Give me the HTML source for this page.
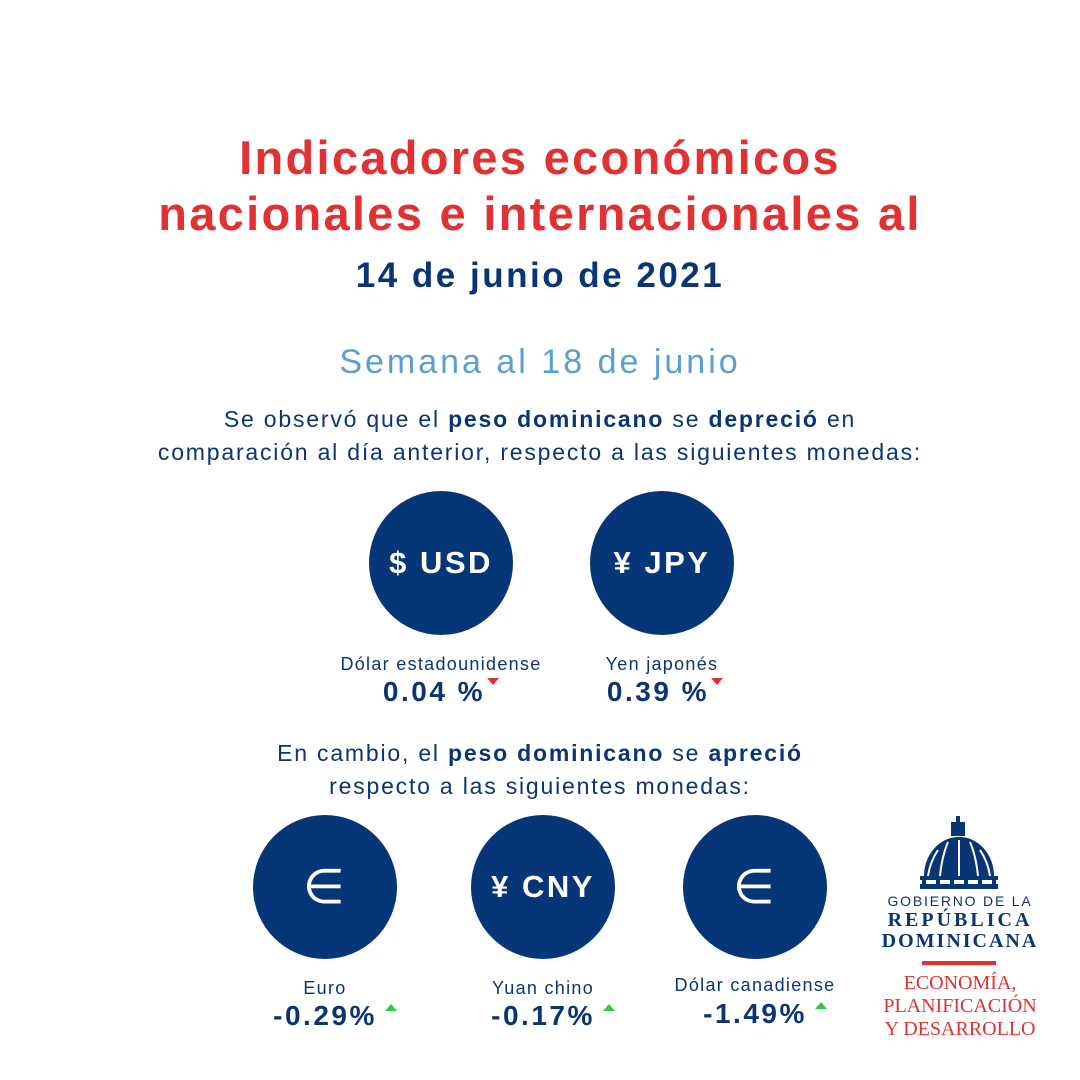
<!DOCTYPE html>
<html><head><meta charset="utf-8"><style>
body{margin:0;width:1080px;height:1080px;background:#fff;position:relative;overflow:hidden;font-family:"Liberation Sans",sans-serif;color:#0a3575}
.t{position:absolute;left:0;width:1080px;text-align:center;white-space:nowrap}
.c{position:absolute;width:144px;height:144px;border-radius:50%;background:#073678;color:#fff;display:flex;align-items:center;justify-content:center;font-weight:bold;font-size:31px;letter-spacing:2.5px}
.lab{position:absolute;text-align:center;white-space:nowrap;font-size:18px;width:240px;letter-spacing:1.3px}
.val{position:absolute;text-align:center;white-space:nowrap;font-size:28px;font-weight:bold;width:240px;letter-spacing:2.5px}
.dn{display:inline-block;width:0;height:0;border-left:6px solid transparent;border-right:6px solid transparent;border-top:7px solid #e03030;vertical-align:top;margin-left:2px;margin-top:2px}
.up{display:inline-block;width:0;height:0;border-left:6px solid transparent;border-right:6px solid transparent;border-bottom:7px solid #2ecc40;vertical-align:top;margin-left:8px;margin-top:4px}
.lg{position:absolute;left:860px;width:200px;text-align:center;font-family:"Liberation Serif",serif;white-space:nowrap}
.eu{font-weight:normal;font-size:48px}
</style></head><body>
<div class="t" style="top:130px;font-size:47px;font-weight:bold;color:#e03232;line-height:56px;letter-spacing:2.3px">Indicadores económicos<br>nacionales e internacionales al</div>
<div class="t" style="top:256px;font-size:35px;font-weight:bold;color:#0a3575;letter-spacing:2.5px">14 de junio de 2021</div>
<div class="t" style="top:343px;font-size:34px;color:#5a9fd4;letter-spacing:3px">Semana al 18 de junio</div>
<div class="t" style="top:403px;font-size:23px;line-height:33px;letter-spacing:1.8px">Se observó que el <b>peso dominicano</b> se <b>depreció</b> en<br>comparación al día anterior, respecto a las siguientes monedas:</div>
<div class="c" style="left:369px;top:491px">$ USD</div>
<div class="c" style="left:590px;top:491px">¥ JPY</div>
<div class="lab" style="left:321px;top:654px">Dólar estadounidense</div>
<div class="val" style="left:321px;top:676px">0.04 %<span class="dn"></span></div>
<div class="lab" style="left:542px;top:654px">Yen japonés</div>
<div class="val" style="left:545px;top:676px">0.39 %<span class="dn"></span></div>
<div class="t" style="top:737px;font-size:23px;line-height:33px;letter-spacing:1.8px">En cambio, el <b>peso dominicano</b> se <b>apreció</b><br>respecto a las siguientes monedas:</div>
<div class="c eu" style="left:253px;top:815px">∈</div>
<div class="c" style="left:471px;top:815px">¥ CNY</div>
<div class="c eu" style="left:683px;top:815px">∈</div>
<div class="lab" style="left:205px;top:978px">Euro</div>
<div class="val" style="left:215px;top:1000px">-0.29%<span class="up"></span></div>
<div class="lab" style="left:423px;top:978px">Yuan chino</div>
<div class="val" style="left:433px;top:1000px">-0.17%<span class="up"></span></div>
<div class="lab" style="left:635px;top:975px">Dólar canadiense</div>
<div class="val" style="left:645px;top:998px">-1.49%<span class="up"></span></div>
<svg style="position:absolute;left:918px;top:816px" width="82" height="74" viewBox="0 0 82 74">
<g fill="#0a3575"><rect x="38" y="0" width="4" height="6"/><rect x="33" y="6" width="14" height="14"/><path d="M6 60 A34 38 0 0 1 76 60 Z"/><rect x="2" y="60" width="78" height="4"/><rect x="2" y="68" width="78" height="5"/>
<rect x="4" y="64" width="4" height="4"/><rect x="18" y="64" width="4" height="4"/><rect x="32" y="64" width="4" height="4"/><rect x="46" y="64" width="4" height="4"/><rect x="60" y="64" width="4" height="4"/><rect x="74" y="64" width="4" height="4"/></g>
<g stroke="#fff" stroke-width="2" fill="none"><path d="M41 24 V60 M30 26 Q24 40 22 60 M52 26 Q58 40 60 60 M20 34 Q12 46 10 60 M62 34 Q70 46 72 60"/></g></svg>
<div class="lg" style="top:893px;font-family:'Liberation Sans',sans-serif;font-size:14px;letter-spacing:1.8px;color:#0a3575">GOBIERNO DE LA</div>
<div class="lg" style="top:909px;font-size:20px;letter-spacing:3px;color:#0a3575;font-weight:bold">REPÚBLICA</div>
<div class="lg" style="top:930px;font-size:20px;letter-spacing:2px;color:#0a3575;font-weight:bold">DOMINICANA</div>
<div style="position:absolute;left:922px;top:961px;width:74px;height:4px;background:#e03232"></div>
<div class="lg" style="top:972px;font-size:20px;color:#e03232;line-height:23px">ECONOMÍA,<br>PLANIFICACIÓN<br>Y DESARROLLO</div>
</body></html>
